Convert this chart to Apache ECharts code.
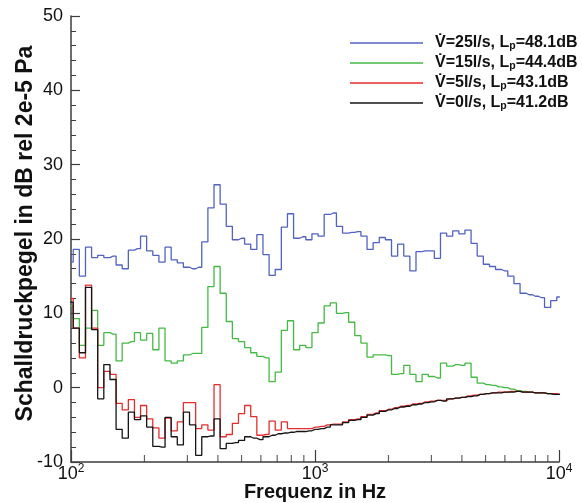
<!DOCTYPE html>
<html>
<head>
<meta charset="utf-8">
<script src="https://cdn.jsdelivr.net/npm/echarts@6/dist/echarts.min.js"></script>
<style>
  html, body { margin: 0; padding: 0; background: #ffffff; }
  #chart { width: 582px; height: 503px; }
</style>
</head>
<body>
<div id="chart"></div>
<script>
// 1/12-octave band centre frequencies, Hz
const bandFreqs = [
  99.21, 105.1, 111.4, 118.0, 125.0, 132.4, 140.3, 148.7, 157.5, 166.9,
  176.8, 187.3, 198.4, 210.2, 222.7, 236.0, 250.0, 264.9, 280.6, 297.3,
  315.0, 333.7, 353.6, 374.6, 396.9, 420.4, 445.4, 471.9, 500.0, 529.7,
  561.2, 594.6, 630.0, 667.4, 707.1, 749.2, 793.7, 840.9, 890.9, 943.9,
  1000, 1059.5, 1122.5, 1189.2, 1259.9, 1334.8, 1414.2, 1498.3, 1587.4, 1681.8,
  1781.8, 1887.7, 2000, 2118.9, 2244.9, 2378.4, 2519.8, 2669.6, 2828.4, 2996.6,
  3174.8, 3363.6, 3563.6, 3775.6, 4000, 4237.9, 4489.8, 4756.8, 5039.7, 5339.3,
  5656.9, 5993.2, 6349.6, 6727.2, 7127.5, 7551.3, 8000, 8475.7, 8979.7, 9513.7,
  10079
];

// Band levels in dB re 2e-5 Pa, one array per flow rate
const level25 = [
  16.9, 18.6, 15.0, 18.9, 17.5, 17.8, 17.5, 17.7, 16.5, 16.0,
  18.5, 18.7, 20.4, 18.4, 17.8, 16.9, 18.9, 17.2, 16.8, 16.2,
  16.0, 16.2, 19.6, 24.2, 27.3, 24.7, 21.7, 19.9, 20.1, 19.3,
  18.6, 20.6, 17.9, 15.1, 15.9, 21.6, 23.4, 20.1, 20.3, 19.9,
  20.7, 20.4, 23.3, 23.5, 21.7, 20.8, 20.9, 21.0, 20.4, 18.6,
  19.5, 20.2, 19.9, 17.7, 19.3, 17.7, 15.7, 18.3, 18.4, 18.4,
  17.4, 20.8, 20.4, 21.1, 20.7, 21.2, 19.4, 17.7, 16.6, 16.3,
  15.9, 15.7, 15.0, 14.0, 12.7, 12.5, 12.3, 12.1, 10.8, 11.7,
  12.2
];
const level15 = [
  11.0, 9.3, 5.7, 8.0, 10.4, 5.7, 7.4, 7.2, 3.6, 6.0,
  6.2, 7.4, 6.4, 7.3, 5.1, 8.0, 3.6, 3.3, 3.6, 4.4,
  4.6, 4.6, 8.1, 13.6, 16.3, 12.7, 8.9, 6.6, 6.2, 5.4,
  4.7, 4.2, 4.0, 0.8, 2.1, 7.7, 9.0, 5.1, 5.7, 5.4,
  7.4, 8.7, 11.0, 11.4, 10.0, 10.1, 8.8, 7.0, 6.0, 4.1,
  4.4, 4.4, 4.3, 1.8, 1.9, 3.0, 1.8, 0.8, 1.8, 1.5,
  1.3, 3.3, 2.9, 3.1, 3.0, 3.3, 1.4, 0.6, 0.4, 0.3,
  0.1, 0.0, -0.2, -0.4, -0.5, -0.6, -0.7, -0.7, -0.8, -0.9,
  -0.9
];
const level5 = [
  12.0, 8.0, 4.0, 13.8, 8.0, 0.0, 2.2, 1.8, -2.1, -3.0,
  -1.6, -4.0, -2.4, -4.2, -5.4, -6.8, -4.1, -5.8, -4.6, -2.0,
  -2.0, -5.5, -5.0, -5.7, 0.4, -6.6, -6.3, -4.8, -3.5, -2.4,
  -3.9, -6.4, -6.3, -4.5, -5.7, -4.6, -5.5, -5.5, -5.5, -5.5,
  -5.3, -5.2, -5.0, -4.9, -4.9, -4.6, -4.3, -4.2, -3.9, -3.6,
  -3.4, -3.1, -2.9, -2.7, -2.5, -2.4, -2.2, -2.1, -1.9, -1.8,
  -1.7, -1.7, -1.5, -1.4, -1.3, -1.1, -1.0, -0.9, -0.8, -0.7,
  -0.6, -0.6, -0.5, -0.5, -0.6, -0.6, -0.7, -0.7, -0.8, -0.8,
  -0.9
];
const level0 = [
  11.5, 8.0, 4.7, 13.5, 7.8, -1.5, 3.1, 1.1, -5.6, -6.8,
  -3.3, -4.3, -3.8, -5.3, -7.9, -8.0, -4.0, -6.6, -7.7, -3.3,
  -5.0, -9.1, -6.6, -6.5, -4.2, -8.2, -7.5, -7.4, -7.1, -6.6,
  -6.8, -7.0, -6.6, -6.4, -6.2, -6.1, -6.0, -5.9, -5.9, -5.8,
  -5.6, -5.5, -5.3, -5.0, -5.0, -4.7, -4.4, -4.3, -4.0, -3.7,
  -3.5, -3.2, -3.0, -2.8, -2.6, -2.5, -2.3, -2.2, -2.0, -1.9,
  -1.7, -1.8, -1.5, -1.4, -1.3, -1.2, -1.1, -0.9, -0.8, -0.7,
  -0.7, -0.6, -0.6, -0.5, -0.6, -0.6, -0.7, -0.7, -0.8, -0.9,
  -0.9
];

const seriesNames = [
  'V\u0307=25l/s, Lp=48.1dB',
  'V\u0307=15l/s, Lp=44.4dB',
  'V\u0307=5l/s, Lp=43.1dB',
  'V\u0307=0l/s, Lp=41.2dB'
];
const seriesColors = ['#5262c0', '#44b944', '#e52d2d', '#151515'];
const seriesLevels = [level25, level15, level5, level0];

// Minor frequency ticks of the log axis (2..9 per decade)
const minorTickFreqs = [200, 300, 400, 500, 600, 700, 800, 900,
  2000, 3000, 4000, 5000, 6000, 7000, 8000, 9000];

const yTicks = { min: -10, max: 50, step: 10 };

const FONT = '"Liberation Sans", Arial, Helvetica, sans-serif';
const AXIS_COLOR = '#3c3c3c';
const TEXT_COLOR = '#111111';

const chart = echarts.init(document.getElementById('chart'), null, { renderer: 'canvas' });

const lineSeries = seriesNames.map((name, i) => ({
  name: name,
  type: 'line',
  step: 'middle',
  showSymbol: false,
  symbol: 'none',
  clip: true,
  color: seriesColors[i],
  lineStyle: { color: seriesColors[i], width: 1.3 },
  data: bandFreqs.map((f, j) => [f, seriesLevels[i][j]])
}));

const tickSeries = {
  name: 'minorTicks',
  type: 'scatter',
  silent: true,
  clip: false,
  symbol: 'rect',
  symbolSize: [1.2, 7],
  symbolOffset: [0, -3.5],
  itemStyle: { color: AXIS_COLOR },
  data: minorTickFreqs.map(f => [f, yTicks.min])
};

chart.setOption({
  animation: false,
  backgroundColor: '#ffffff',
  textStyle: { fontFamily: FONT },
  grid: { left: 71, right: 23, top: 16, bottom: 41, containLabel: false, outerBoundsMode: 'none' },
  legend: {
    data: seriesNames,
    orient: 'vertical',
    left: 350,
    top: 35,
    padding: 0,
    itemGap: 3.0,
    itemWidth: 73,
    itemHeight: 1.6,
    icon: 'rect',
    selectedMode: false,
    formatter: name => '{t|' + name.replace('Lp=', 'L}{sub|p}{t|=') + '}',
    textStyle: {
      padding: [0, 0, 0, 7],
      rich: {
        t: { fontFamily: FONT, fontSize: 16, fontWeight: 'bold', color: TEXT_COLOR, lineHeight: 18 },
        sub: { fontFamily: FONT, fontSize: 10.5, fontWeight: 'bold', color: TEXT_COLOR, lineHeight: 10, verticalAlign: 'bottom' }
      }
    }
  },
  xAxis: {
    type: 'log',
    logBase: 10,
    min: 100,
    max: 10000,
    name: 'Frequenz in Hz',
    nameLocation: 'middle',
    nameGap: 20,
    nameMoveOverlap: false,
    nameTextStyle: { fontFamily: FONT, fontSize: 20, fontWeight: 'bold', color: TEXT_COLOR },
    axisLine: { show: true, onZero: false, lineStyle: { color: AXIS_COLOR, width: 1.5 } },
    axisTick: { show: true, inside: true, length: 12, lineStyle: { color: AXIS_COLOR, width: 1.2 } },
    minorTick: { show: false },
    splitLine: { show: false },
    axisLabel: {
      margin: 1,
      formatter: v => '{b|10}{s|' + Math.round(Math.log10(v)) + '}',
      rich: {
        b: { fontFamily: FONT, fontSize: 18, color: TEXT_COLOR, lineHeight: 22 },
        s: { fontFamily: FONT, fontSize: 12, color: TEXT_COLOR, lineHeight: 12, verticalAlign: 'top' }
      }
    }
  },
  yAxis: {
    type: 'value',
    min: yTicks.min,
    max: yTicks.max,
    interval: yTicks.step,
    name: 'Schalldruckpegel in dB rel 2e-5 Pa',
    nameLocation: 'middle',
    nameGap: 34,
    nameMoveOverlap: false,
    nameTextStyle: { fontFamily: FONT, fontSize: 23, fontWeight: 'bold', color: TEXT_COLOR, padding: [0, 0, 0, 11] },
    axisLine: { show: true, lineStyle: { color: AXIS_COLOR, width: 1.5 } },
    axisTick: { show: true, inside: true, length: 9, lineStyle: { color: AXIS_COLOR, width: 1.2 } },
    minorTick: { show: true, splitNumber: 5, length: 5, lineStyle: { color: AXIS_COLOR, width: 1 } },
    splitLine: { show: false },
    axisLabel: { margin: 8, fontFamily: FONT, fontSize: 18, color: TEXT_COLOR }
  },
  series: lineSeries.concat([tickSeries])
});
</script>
</body>
</html>
